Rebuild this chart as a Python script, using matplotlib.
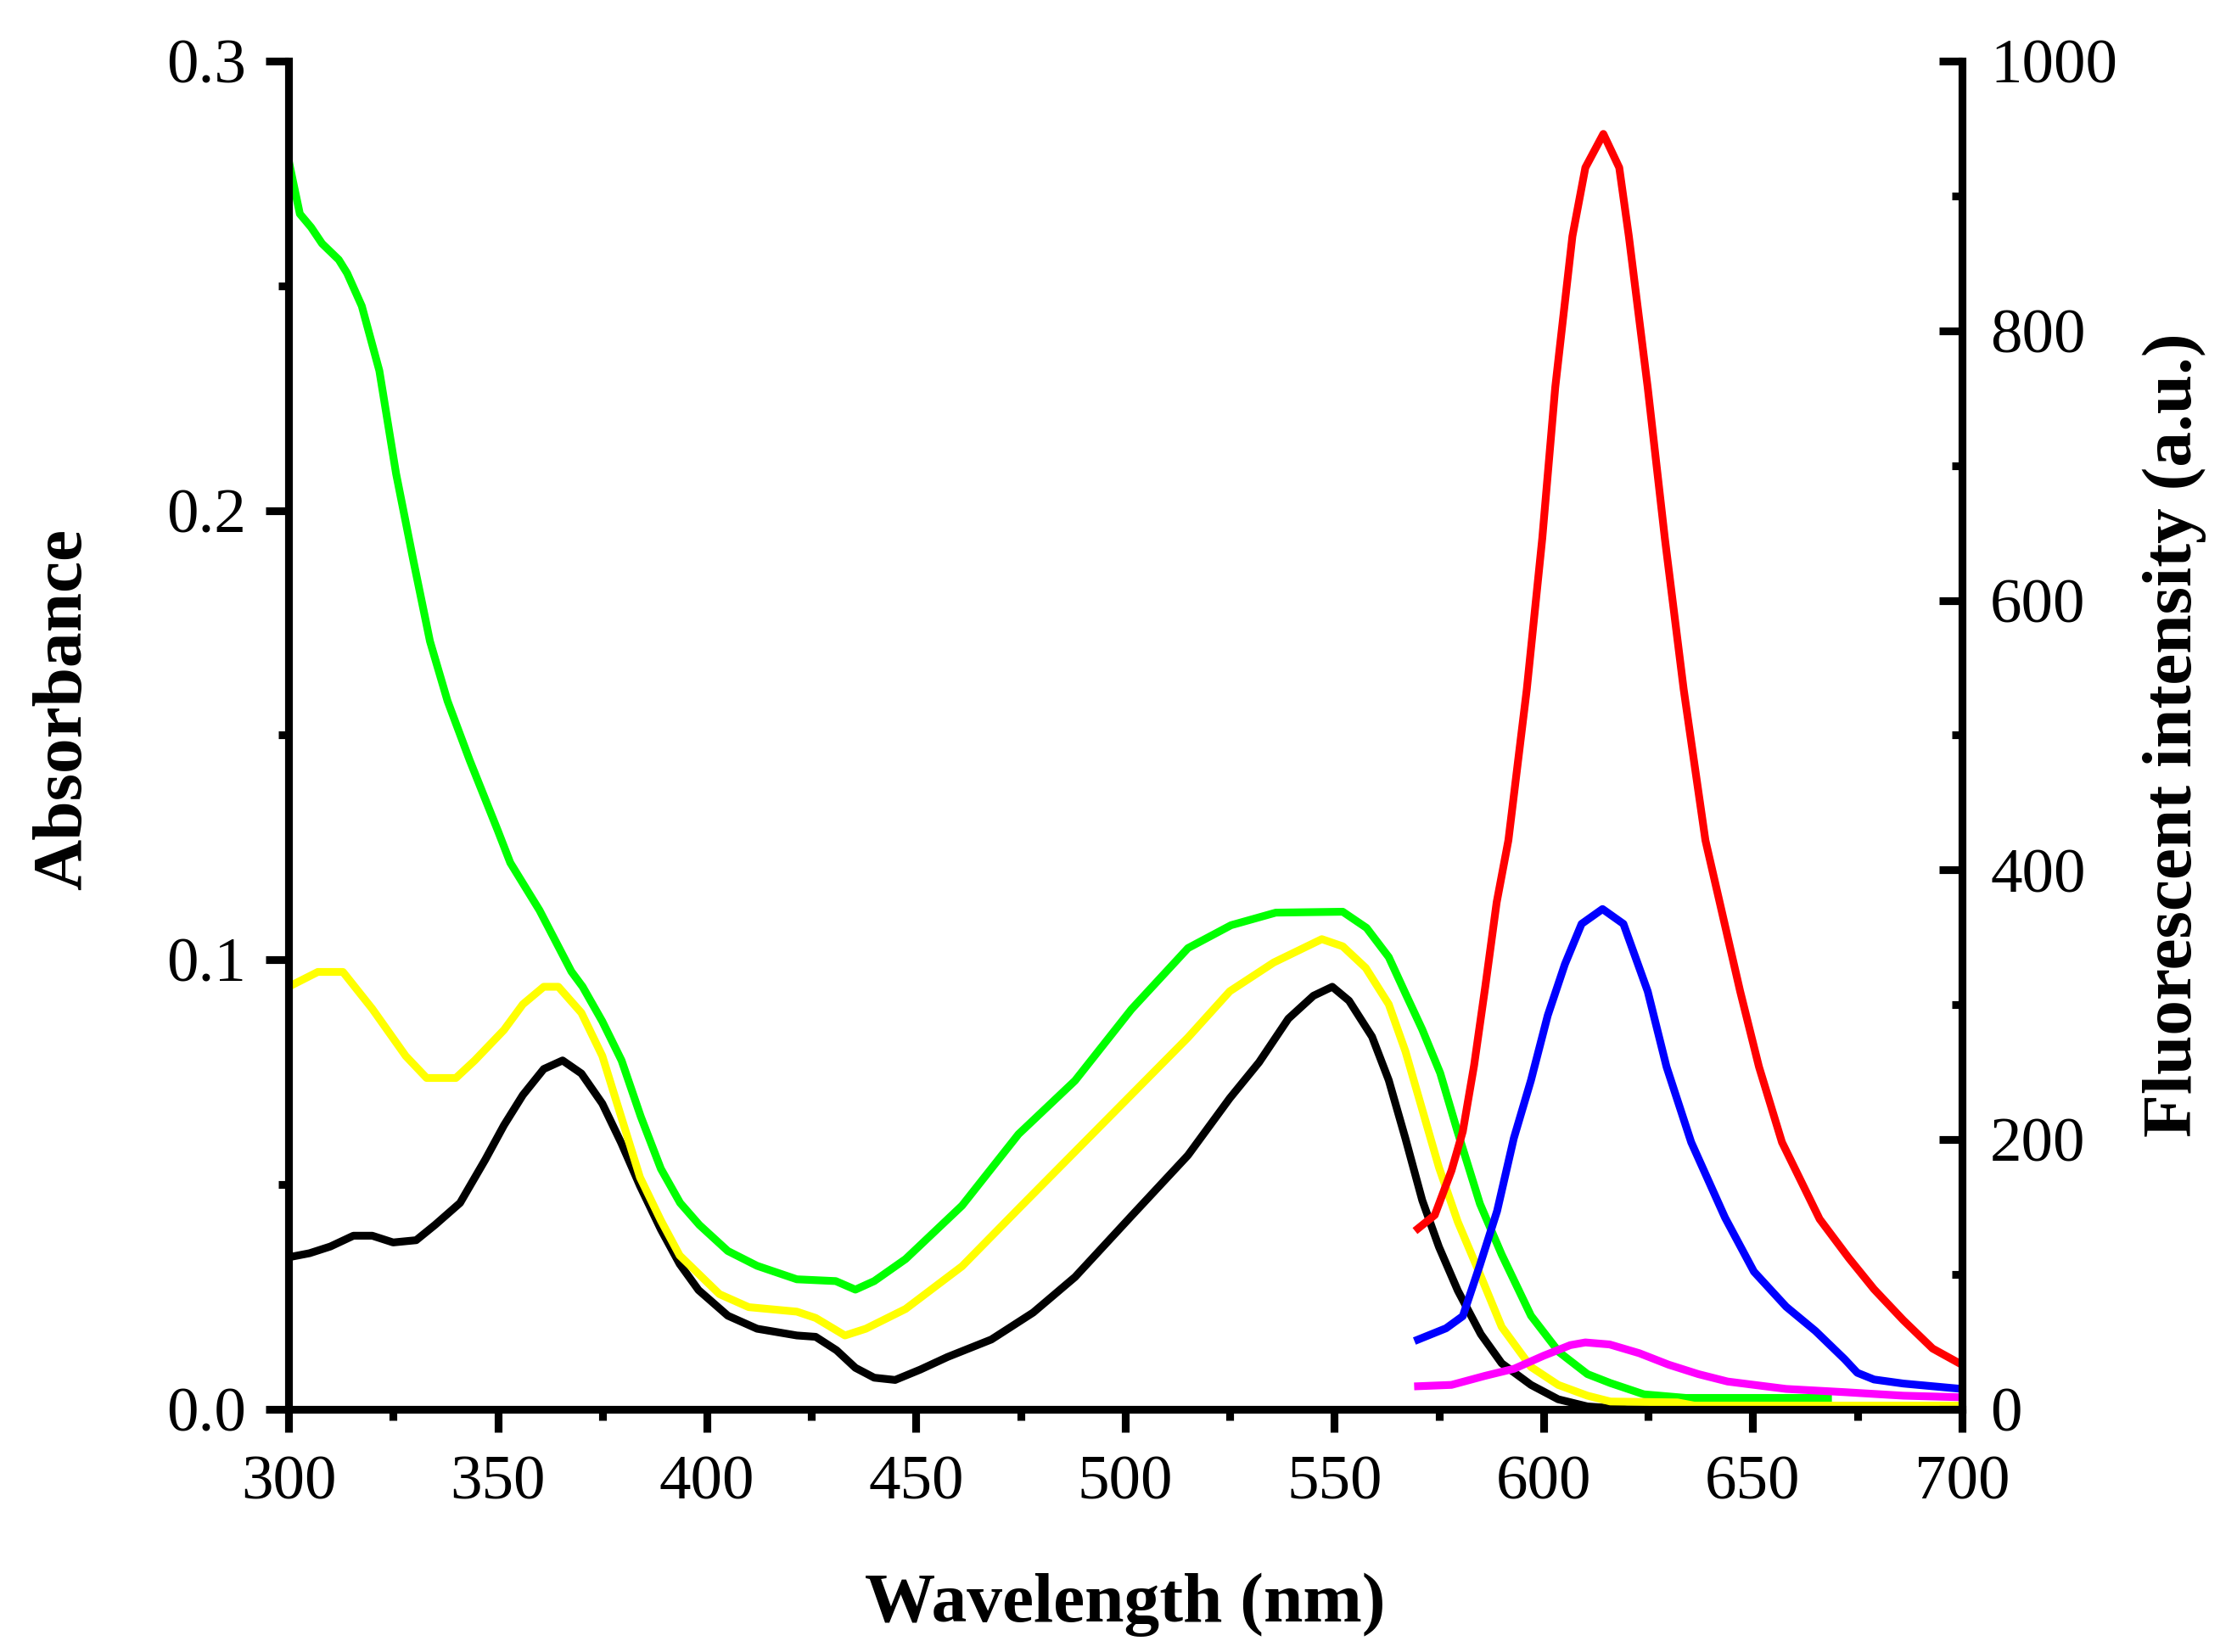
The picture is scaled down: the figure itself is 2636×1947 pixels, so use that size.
import numpy as np
import matplotlib.pyplot as plt
from matplotlib.ticker import MultipleLocator

# ABSORBANCE SPECTRA (left axis)
wl_black = [300, 305, 310, 315.5, 320, 325, 330.5, 335, 341, 347, 351.5, 356, 361, 365.5, 370,
            375, 379.5, 384, 389, 393.5, 398, 405, 412, 421.5, 426, 431, 435.5, 440, 445, 451,
            457.5, 468, 478, 488, 501.5, 515, 525, 532, 539, 545, 549.5, 553.5, 559, 563, 567,
            571, 575, 579.5, 585, 590, 597, 603.5, 610.5, 620, 630]
abs_black = [0.0338, 0.0347, 0.0362, 0.0386, 0.0386, 0.0371, 0.0376, 0.041, 0.0459, 0.0555,
             0.0632, 0.0699, 0.0757, 0.0776, 0.0747, 0.068, 0.0593, 0.0497, 0.040, 0.0323,
             0.0265, 0.0208, 0.0179, 0.0164, 0.0161, 0.0131, 0.0092, 0.0070, 0.0065, 0.0088,
             0.0116, 0.0155, 0.0215, 0.0294, 0.043, 0.0565, 0.0692, 0.0772, 0.0869, 0.0920,
             0.0940, 0.0909, 0.0829, 0.0732, 0.0602, 0.0465, 0.0361, 0.0264, 0.0167, 0.0102,
             0.0054, 0.0022, 0.0006, 0.0, 0.0]

wl_yellow = [300, 307, 313, 320, 328, 333, 340, 344.5, 351.5, 356, 361, 364.5, 370, 375, 379.5,
             384, 389, 393.5, 403, 410, 421.5, 426, 433, 438, 447.5, 461, 474.5, 488, 501.5,
             515, 525, 535.5, 547, 552, 557.5, 563, 567, 571, 575, 579.5, 585, 590, 597, 603.5,
             610.5, 616, 632, 636, 700]
abs_yellow = [0.094, 0.0973, 0.0973, 0.0891, 0.0786, 0.0737, 0.0737, 0.0776, 0.0844, 0.0901,
              0.094, 0.094, 0.0882, 0.0786, 0.0651, 0.0516, 0.042, 0.0342, 0.0256, 0.0227,
              0.0217, 0.0203, 0.0164, 0.0179, 0.0223, 0.0318, 0.0446, 0.0573, 0.070, 0.0827,
              0.093, 0.0994, 0.1046, 0.103, 0.0982, 0.0901, 0.0796, 0.0667, 0.0538, 0.0417,
              0.0296, 0.0183, 0.0094, 0.0054, 0.003, 0.0017, 0.0015, 0.0008, 0.0008]

wl_green = [300, 301, 302.7, 305.4, 308, 312, 314, 317.5, 321.7, 325.7, 329.8, 333.8, 338, 343.3,
            350, 353, 360, 367.6, 370.3, 375, 379.6, 384.2, 389, 393.6, 398.2, 405, 412, 421.5,
            430.8, 435.5, 440, 447.5, 461, 474.5, 488, 501.5, 515, 525.3, 536, 552, 557.7, 563,
            567, 571, 575.3, 579.4, 584.8, 590, 597, 603.7, 610.5, 616, 624, 634, 668]
abs_green = [0.278, 0.2735, 0.266, 0.263, 0.2594, 0.2558, 0.2528, 0.2455, 0.2311, 0.2082, 0.189,
             0.1709, 0.1576, 0.1444, 0.1288, 0.1216, 0.111, 0.0974, 0.094, 0.0863, 0.0776,
             0.0651, 0.0535, 0.0459, 0.041, 0.0352, 0.0319, 0.0289, 0.0285, 0.0266, 0.0285,
             0.0334, 0.0453, 0.0612, 0.0731, 0.089, 0.1026, 0.1077, 0.1105, 0.1107, 0.1071,
             0.1006, 0.0925, 0.0845, 0.0748, 0.0619, 0.0457, 0.0344, 0.0208, 0.0127, 0.0078,
             0.0058, 0.0033, 0.0025, 0.0025]

# FLUORESCENCE SPECTRA (right axis)
wl_red = [570, 574, 578, 580.7, 583.4, 586.1, 588.8, 591.6, 596, 599.7, 602.8, 606.9, 610, 614.3,
          618.1, 620.4, 624.9, 629, 633.5, 638.7, 647, 651.5, 657, 666, 673, 679, 686, 693, 700]
fl_red = [134, 144, 177, 206, 255, 314, 376, 422, 534, 646, 758, 870, 921, 946,
          921, 870, 758, 646, 534, 422, 310, 254, 198, 141, 112, 89, 66, 45, 33]

wl_blue = [570, 576.7, 580.7, 584.8, 588.9, 592.9, 597, 601, 605.1, 609.1, 614.1, 619.1, 624.9,
           629.4, 635.3, 643.4, 650.3, 658, 665, 672, 675, 679, 686, 700]
fl_blue = [51.6, 60, 69, 107, 147, 201, 244, 292, 330, 360, 371, 360, 310,
           254, 198, 142, 102, 76, 58, 37, 27, 22, 19, 15]

wl_pink = [570, 578, 586, 593, 600, 606.4, 610, 615.8, 622.9, 629.9, 637, 644, 658, 672, 686, 700]
fl_pink = [17, 18, 24.7, 30, 39.6, 47.5, 49.5, 48, 41.5, 33, 26, 20.5, 15, 12.6, 10, 8.8]

plt.rcParams['font.family'] = ['Liberation Serif', 'DejaVu Serif']

fig = plt.figure(figsize=(2636 / 300, 1947 / 300), dpi=300)
ax = fig.add_axes([0.129, 0.147, 0.748, 0.816])
ax2 = ax.twinx()

lw = 2.2
ax.plot(wl_black, abs_black, color='black', lw=lw)
ax.plot(wl_green, abs_green, color='#00ff00', lw=lw)
ax.plot(wl_yellow, abs_yellow, color='#ffff00', lw=lw)

ax2.plot(wl_pink, fl_pink, color='#ff00ff', lw=lw)
ax2.plot(wl_blue, fl_blue, color='#0000ff', lw=lw)
ax2.plot(wl_red, fl_red, color='#ff0000', lw=lw)

ax.set_xlim(300, 700)
ax.set_ylim(0, 0.3)
ax2.set_ylim(0, 1000)

ax.xaxis.set_major_locator(MultipleLocator(50))
ax.xaxis.set_minor_locator(MultipleLocator(25))
ax.yaxis.set_major_locator(MultipleLocator(0.1))
ax.yaxis.set_minor_locator(MultipleLocator(0.05))
ax.yaxis.set_major_formatter(plt.FuncFormatter(lambda v, p: f'{v:.1f}'))
ax2.yaxis.set_major_locator(MultipleLocator(200))
ax2.yaxis.set_minor_locator(MultipleLocator(100))

for a in (ax, ax2):
    a.spines['top'].set_visible(False)
    for s in a.spines.values():
        s.set_linewidth(2.2)
ax.spines['right'].set_visible(False)
ax2.spines['left'].set_visible(False)
ax2.spines['bottom'].set_visible(False)

# left and bottom ticks point out, right axis ticks point in
ax.tick_params(which='major', direction='out', length=6.5, width=2.2, labelsize=18)
ax.tick_params(which='minor', direction='out', length=3, width=2.2)
ax.tick_params(axis='x', which='major', pad=6.5)
ax.tick_params(axis='y', which='major', pad=5.5)
ax2.tick_params(which='major', direction='in', length=6.5, width=2.2, labelsize=18, pad=8)
ax2.tick_params(which='minor', direction='in', length=3, width=2.2)

ax.set_xlabel('Wavelength (nm)', fontsize=20, fontweight='bold', labelpad=17)
ax.set_ylabel('Absorbance', fontsize=20, fontweight='bold', labelpad=20, y=0.519)
ax2.set_ylabel('Fluorescent intensity (a.u.)', fontsize=20, fontweight='bold', labelpad=7)

fig.savefig('out.png', dpi=300)
